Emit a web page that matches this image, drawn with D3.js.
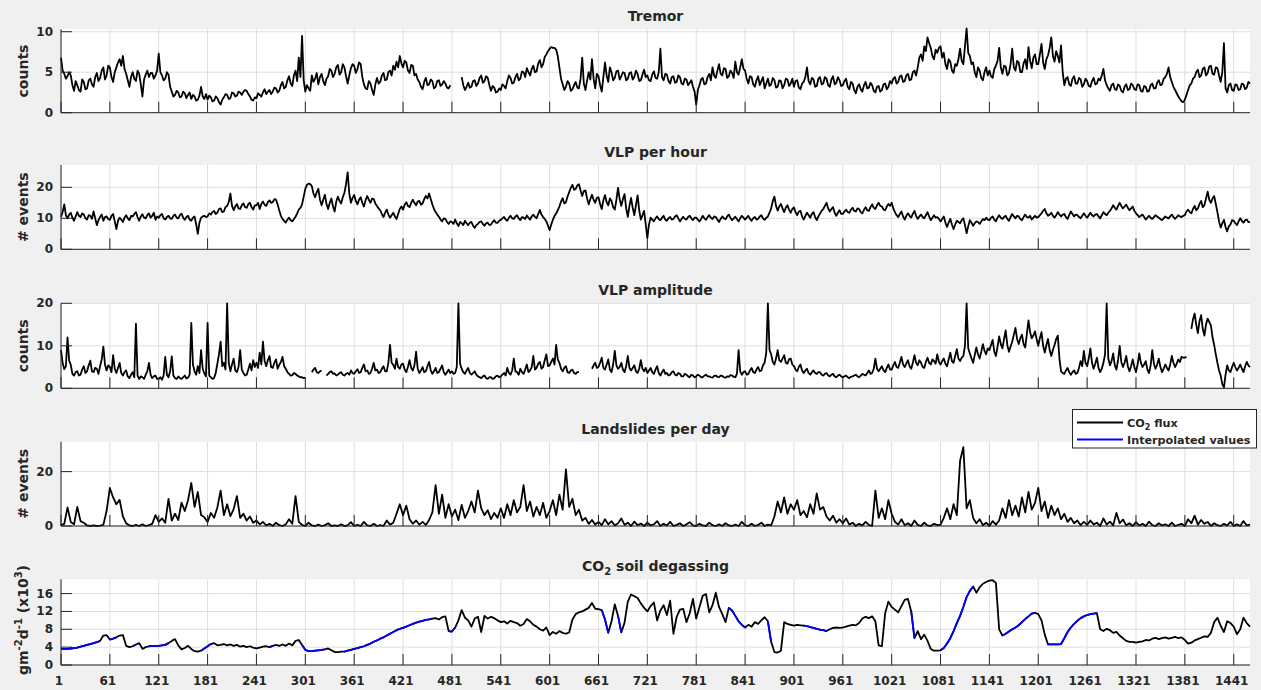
<!DOCTYPE html>
<html>
<head>
<meta charset="utf-8">
<script src="https://cdn.jsdelivr.net/npm/d3@7"></script>
<style>
  html, body { margin: 0; padding: 0; background: #f0f0f0; }
  svg { display: block; }
  text { font-family: "DejaVu Sans", sans-serif; fill: #262626; }
</style>
</head>
<body>
<svg id="chart" width="1261" height="690"></svg>
<script>
// Monitoring record, day 1 .. day 1461.
// Each row holds the samples of one 60-day interval (the last row covers days 1441-1461).
const firstDay = 1;
const lastDay = 1461;
const rowSpan = 60;

// Volcanic tremor (counts), every 2 days
const tremor = [
  [6.8, 5.2, 4.8, 4.2, 4.5, 5.0, 4.6, 3.4, 2.7, 3.9, 3.4, 2.8, 2.6, 4.1, 3.8, 2.9, 3.0, 4.0, 4.2, 3.5, 3.2, 4.4, 4.9, 3.9, 4.3, 5.2, 5.6, 4.1, 4.6, 5.8],
  [5.6, 4.4, 3.8, 5.0, 5.6, 6.2, 6.6, 5.8, 7.0, 5.4, 4.8, 4.0, 3.2, 4.4, 5.0, 4.2, 3.9, 5.2, 4.8, 3.5, 2.0, 4.1, 4.7, 5.2, 4.4, 4.9, 4.9, 4.2, 4.6, 5.2],
  [7.3, 5.0, 4.6, 4.0, 4.2, 5.0, 4.7, 3.2, 2.6, 2.0, 2.2, 2.7, 2.5, 1.9, 2.0, 2.6, 2.4, 1.8, 2.2, 2.5, 1.7, 2.2, 2.0, 1.5, 1.6, 2.1, 3.2, 2.0, 1.7, 2.3],
  [1.6, 2.1, 1.9, 1.4, 1.5, 2.0, 1.8, 1.3, 1.0, 1.6, 1.9, 2.3, 2.2, 1.7, 1.8, 2.5, 2.4, 2.0, 2.1, 2.6, 2.5, 2.2, 2.6, 2.8, 2.7, 2.3, 2.0, 1.6, 1.5, 1.9],
  [1.8, 2.4, 2.2, 2.0, 2.5, 2.9, 2.3, 2.6, 2.8, 2.3, 2.6, 3.1, 3.0, 2.5, 2.7, 3.4, 3.8, 3.0, 3.2, 4.0, 4.5, 3.6, 3.3, 4.6, 5.2, 3.9, 6.8, 4.4, 9.5, 4.0],
  [2.6, 3.4, 3.0, 2.7, 4.6, 3.8, 4.2, 4.9, 3.5, 4.4, 4.8, 3.9, 3.4, 4.2, 4.5, 5.4, 5.2, 4.4, 4.8, 5.6, 5.9, 4.7, 5.0, 6.0, 5.6, 4.5, 3.6, 4.6, 5.5, 6.0],
  [5.8, 4.9, 5.4, 6.2, 6.0, 4.4, 3.5, 3.0, 2.9, 3.9, 3.6, 2.8, 2.2, 3.5, 4.3, 3.6, 3.8, 4.6, 4.9, 4.0, 4.1, 5.0, 5.2, 4.6, 5.8, 5.3, 6.3, 5.6, 7.0, 6.1],
  [5.6, 6.4, 6.2, 5.2, 4.9, 5.9, 5.8, 4.6, 4.8, 4.1, 3.8, 3.2, 2.9, 3.8, 4.3, 3.4, 3.5, 4.1, 3.9, 3.0, 3.2, 3.9, 4.0, 3.3, 3.5, 3.9, 3.6, 3.1, 3.0, 3.4],
  [null, null, null, null, null, null, 4.4, 3.4, 2.8, 3.2, 3.7, 3.1, 3.2, 3.9, 4.0, 3.3, 3.6, 4.3, 4.6, 3.7, 3.9, 4.5, 4.3, 3.4, 2.7, 3.3, 3.1, 2.5, 2.6, 3.0],
  [2.8, 3.5, 3.3, 3.0, 3.9, 4.6, 4.3, 3.6, 3.7, 4.4, 4.8, 4.0, 4.2, 5.1, 5.0, 4.4, 5.5, 5.0, 4.6, 5.4, 5.8, 5.0, 5.1, 6.1, 6.5, 5.6, 6.0, 6.9, 7.2, 7.6],
  [7.9, 8.1, 8.0, 8.0, 7.8, 7.0, 5.6, 4.2, 3.5, 2.8, 3.2, 3.9, 3.6, 2.7, 2.9, 3.4, 3.8, 3.1, 3.0, 4.2, 6.8, 3.6, 2.8, 4.0, 5.0, 4.1, 6.6, 4.2, 3.0, 4.8],
  [4.5, 3.4, 2.6, 4.4, 6.2, 4.6, 3.8, 5.6, 5.0, 4.0, 4.3, 5.1, 5.2, 4.1, 4.5, 5.0, 4.9, 4.0, 4.2, 4.9, 5.0, 4.1, 4.4, 5.2, 4.8, 3.9, 4.0, 4.7, 5.3, 4.4],
  [4.6, 4.0, 3.9, 4.7, 5.1, 4.3, 4.2, 5.0, 7.9, 4.4, 4.0, 4.8, 4.7, 3.9, 3.6, 4.4, 4.5, 3.7, 3.8, 4.6, 4.4, 3.6, 3.5, 4.2, 4.1, 3.4, 3.7, 4.0, 3.2, 2.6],
  [1.0, 2.8, 3.4, 4.1, 4.3, 3.5, 3.6, 4.4, 4.8, 4.0, 5.6, 4.6, 4.3, 5.2, 6.0, 4.8, 4.6, 5.5, 5.4, 4.3, 4.5, 5.2, 4.9, 4.3, 6.3, 5.0, 4.7, 5.6, 6.6, 5.4],
  [5.2, 4.2, 3.6, 4.5, 4.4, 3.5, 3.2, 4.0, 4.5, 3.4, 3.9, 4.4, 3.0, 3.6, 4.2, 3.3, 3.5, 4.3, 4.0, 3.1, 3.2, 4.0, 3.9, 3.0, 3.4, 4.2, 4.1, 3.3, 3.6, 4.2],
  [3.2, 3.9, 4.0, 3.1, 2.9, 3.6, 3.8, 4.4, 5.6, 3.9, 3.5, 4.3, 4.1, 3.2, 3.3, 4.2, 4.4, 3.5, 3.6, 4.4, 4.2, 3.4, 3.2, 4.1, 4.5, 3.5, 3.7, 4.4, 4.0, 3.3],
  [3.4, 3.9, 4.2, 3.2, 2.9, 3.8, 3.6, 2.8, 2.4, 3.2, 3.5, 2.9, 2.6, 3.4, 3.8, 3.0, 3.1, 3.7, 3.4, 2.7, 2.5, 3.2, 3.3, 2.6, 2.8, 3.5, 3.6, 2.9, 3.2, 3.9],
  [3.6, 4.2, 4.4, 3.6, 3.8, 4.5, 4.6, 3.8, 3.9, 4.6, 4.8, 4.0, 4.1, 5.0, 5.2, 4.6, 5.6, 6.8, 7.2, 6.4, 8.2, 7.6, 9.3, 8.6, 8.0, 7.0, 6.6, 7.8, 7.4, 8.0],
  [8.2, 6.8, 7.4, 6.0, 5.4, 6.6, 6.3, 5.2, 4.9, 6.0, 5.8, 6.6, 7.9, 6.4, 6.0, 8.2, 10.4, 7.4, 7.0, 6.0, 6.2, 5.0, 4.4, 5.6, 5.2, 4.3, 4.0, 5.0, 5.6, 4.6],
  [5.2, 4.5, 4.3, 5.4, 5.8, 6.4, 8.0, 5.6, 4.8, 5.8, 5.7, 4.6, 4.9, 6.0, 7.9, 5.6, 5.2, 6.4, 6.2, 5.0, 5.0, 6.1, 6.6, 5.4, 8.1, 6.4, 5.5, 6.8, 7.2, 6.0],
  [6.0, 7.2, 8.5, 6.2, 5.4, 6.6, 7.1, 8.0, 9.3, 7.0, 6.3, 7.6, 7.0, 6.2, 8.3, 5.0, 3.4, 4.2, 4.4, 3.5, 3.3, 4.2, 4.5, 3.6, 3.6, 4.3, 4.1, 3.2, 3.5, 4.2],
  [3.9, 3.3, 3.2, 3.9, 4.3, 3.5, 3.6, 4.2, 4.0, 4.6, 5.4, 4.0, 3.4, 3.0, 2.7, 3.4, 3.6, 2.9, 2.8, 3.5, 3.3, 2.7, 2.5, 3.2, 3.5, 2.8, 2.9, 3.6, 3.4, 2.9],
  [2.8, 3.5, 3.4, 2.7, 2.6, 3.3, 3.2, 2.6, 2.7, 3.4, 3.6, 3.0, 3.0, 3.7, 4.0, 3.4, 3.5, 4.2, 4.4, 4.8, 5.6, 4.4, 3.8, 3.2, 2.8, 2.4, 2.0, 1.7, 1.4, 1.3],
  [1.6, 2.2, 2.8, 3.4, 3.6, 4.2, 4.4, 5.0, 5.3, 4.4, 4.6, 5.4, 5.6, 4.6, 4.9, 5.7, 5.8, 4.8, 4.7, 5.6, 5.5, 4.6, 3.8, 5.0, 8.6, 3.0, 2.5, 3.4, 3.6, 2.8],
  [2.7, 3.5, 3.4, 2.8, 2.9, 3.6, 3.5, 2.9, 3.1, 3.8, 3.6]
];

// Very-long-period events per hour, every 2 days
const vlpRate = [
  [10.5, 12.0, 14.5, 11.0, 10.0, 11.2, 11.8, 10.2, 9.2, 10.6, 12.0, 10.8, 10.4, 11.6, 11.2, 10.0, 9.6, 11.0, 10.8, 9.8, 12.2, 10.0, 7.8, 9.4, 10.4, 11.2, 9.2, 10.4, 10.6, 9.8],
  [9.5, 10.8, 11.4, 9.0, 6.5, 9.2, 10.2, 9.6, 8.8, 10.2, 11.0, 10.0, 9.4, 10.8, 10.6, 11.4, 12.0, 10.4, 9.2, 10.6, 11.3, 10.2, 10.0, 11.0, 11.6, 10.2, 10.8, 11.8, 9.5, 10.6],
  [10.2, 11.0, 11.4, 10.0, 9.6, 10.4, 10.8, 10.0, 9.8, 10.8, 11.2, 10.2, 10.0, 11.0, 11.5, 10.2, 9.5, 10.4, 10.8, 9.6, 9.2, 10.2, 10.6, 8.0, 5.0, 8.6, 10.2, 10.6, 10.8, 10.4],
  [10.6, 11.6, 11.2, 12.0, 12.4, 11.4, 11.8, 13.0, 13.2, 12.0, 12.2, 13.6, 14.0, 15.2, 18.0, 14.0, 12.6, 13.8, 14.6, 13.2, 13.0, 14.2, 14.8, 13.6, 13.4, 14.6, 15.0, 13.6, 12.8, 14.2],
  [14.2, 15.0, 13.0, 14.6, 15.4, 14.4, 14.0, 15.2, 15.8, 15.0, 15.2, 16.2, 16.0, 14.5, 12.5, 10.8, 9.8, 9.2, 8.6, 9.6, 10.2, 9.4, 9.0, 9.8, 10.5, 11.6, 12.8, 13.4, 14.5, 17.0],
  [19.5, 20.8, 21.2, 21.0, 20.4, 18.0, 16.8, 18.4, 19.5, 16.0, 14.2, 16.0, 17.6, 14.6, 13.0, 15.0, 16.4, 13.8, 12.2, 15.4, 17.0, 15.6, 14.8, 16.8, 18.2, 21.0, 24.8, 18.0, 15.0, 16.6],
  [17.5, 15.6, 14.5, 16.0, 16.8, 15.0, 13.8, 15.8, 17.2, 16.0, 15.0, 16.4, 16.2, 14.8, 14.0, 13.2, 12.6, 11.4, 10.4, 11.8, 12.8, 11.2, 10.2, 11.0, 11.8, 10.6, 9.8, 11.4, 13.0, 13.8],
  [12.8, 14.4, 15.2, 14.0, 13.6, 15.0, 16.0, 15.0, 14.2, 15.4, 15.6, 14.4, 14.8, 16.2, 17.2, 16.4, 18.0, 16.2, 14.5, 13.0, 12.0, 11.2, 10.5, 9.6, 9.0, 10.0, 9.8, 8.8, 8.2, 9.0],
  [8.8, 8.2, 9.6, 8.4, 7.5, 8.8, 8.4, 7.8, 9.2, 8.4, 7.8, 8.6, 8.8, 7.6, 6.9, 7.8, 8.2, 8.8, 9.0, 8.2, 7.6, 8.4, 8.6, 7.8, 8.0, 8.8, 9.4, 8.6, 8.5, 9.2],
  [9.5, 10.0, 10.4, 9.6, 9.2, 10.2, 10.8, 10.0, 9.8, 10.6, 11.0, 10.0, 9.4, 10.4, 10.2, 9.8, 10.9, 10.2, 9.6, 10.6, 11.2, 10.4, 10.0, 11.4, 12.7, 11.2, 10.4, 9.8, 9.0, 7.6],
  [6.2, 8.0, 9.5, 10.8, 11.5, 12.6, 13.8, 15.4, 16.5, 14.8, 15.2, 17.0, 18.4, 19.8, 20.8, 19.2, 19.5, 20.6, 21.0, 19.0, 17.2, 18.8, 19.0, 16.4, 14.5, 16.2, 17.6, 16.0, 15.0, 16.6],
  [16.8, 14.6, 13.0, 15.8, 17.5, 15.2, 14.2, 16.4, 15.6, 13.6, 12.8, 16.0, 19.8, 16.2, 14.0, 16.2, 17.8, 13.2, 10.5, 14.0, 16.6, 13.4, 11.0, 14.2, 17.4, 12.6, 9.6, 11.0, 12.4, 8.0],
  [3.6, 8.0, 10.2, 9.6, 9.0, 10.0, 10.6, 9.8, 9.4, 10.2, 10.8, 9.6, 9.2, 10.0, 10.4, 9.6, 9.8, 10.6, 11.0, 10.0, 9.0, 9.8, 10.5, 9.8, 9.6, 10.4, 10.8, 10.0, 9.4, 10.2],
  [10.2, 9.6, 9.0, 9.8, 10.8, 10.0, 9.5, 10.4, 11.0, 10.2, 9.8, 10.6, 10.4, 9.6, 8.8, 9.8, 10.6, 10.0, 9.7, 10.6, 11.2, 10.2, 9.4, 10.0, 10.5, 9.8, 9.0, 10.0, 10.8, 10.2],
  [9.6, 10.2, 10.8, 9.8, 9.2, 10.0, 10.4, 9.6, 9.8, 10.6, 11.0, 10.0, 9.5, 10.2, 10.6, 11.8, 13.2, 15.6, 17.0, 14.0, 12.5, 13.8, 14.6, 13.2, 12.0, 13.4, 14.2, 12.8, 11.8, 13.0],
  [13.5, 12.0, 11.0, 12.2, 12.4, 10.6, 9.6, 10.8, 11.8, 11.0, 10.2, 11.4, 12.0, 10.4, 9.4, 10.6, 11.5, 12.4, 13.0, 14.0, 15.0, 13.2, 12.2, 13.0, 13.6, 11.8, 10.8, 11.8, 12.6, 11.4],
  [11.4, 12.2, 12.8, 12.0, 11.8, 12.8, 13.4, 12.4, 12.2, 13.2, 13.0, 12.0, 11.6, 12.8, 13.6, 12.6, 12.4, 13.6, 14.5, 13.4, 13.0, 14.2, 15.0, 14.0, 13.8, 12.8, 12.6, 13.8, 14.6, 14.0],
  [15.0, 13.2, 12.0, 11.0, 10.4, 11.4, 12.2, 10.6, 9.6, 10.8, 11.6, 10.8, 10.2, 11.4, 12.4, 10.8, 9.8, 10.6, 11.2, 10.4, 10.0, 11.0, 12.0, 10.6, 9.4, 10.2, 11.0, 10.2, 10.4, 9.8],
  [9.0, 9.8, 10.6, 8.6, 7.2, 8.6, 9.8, 8.0, 6.5, 8.0, 9.2, 8.8, 8.4, 9.4, 10.0, 7.8, 5.2, 7.4, 9.4, 8.6, 7.6, 8.4, 9.0, 8.8, 8.2, 9.0, 9.8, 9.4, 10.2, 9.6],
  [9.4, 10.2, 10.6, 9.6, 9.0, 10.2, 11.0, 10.2, 9.8, 10.4, 10.8, 9.8, 9.2, 10.4, 11.4, 10.6, 10.0, 10.8, 10.6, 9.8, 9.4, 10.4, 11.2, 10.4, 10.2, 10.8, 9.6, 10.2, 10.8, 10.2],
  [10.4, 11.0, 11.6, 12.4, 13.0, 11.6, 10.8, 11.2, 11.8, 10.8, 10.2, 11.0, 12.0, 11.2, 10.6, 11.2, 11.4, 10.4, 9.8, 11.0, 12.2, 11.4, 10.6, 11.2, 11.0, 10.4, 10.0, 10.8, 11.6, 10.8],
  [10.2, 11.0, 11.8, 11.0, 10.6, 11.2, 11.4, 10.6, 10.0, 11.0, 12.0, 11.4, 11.0, 11.8, 12.4, 13.2, 14.2, 13.4, 12.8, 14.0, 15.0, 14.0, 13.2, 13.8, 14.4, 13.4, 12.6, 13.2, 13.8, 12.4],
  [11.6, 11.0, 10.4, 10.8, 11.2, 10.4, 9.6, 10.2, 10.8, 10.2, 9.8, 10.4, 11.0, 10.6, 10.2, 9.8, 9.4, 10.0, 10.6, 10.2, 10.0, 10.6, 11.2, 10.4, 9.8, 10.4, 11.0, 10.6, 10.4, 10.8],
  [11.0, 12.2, 12.8, 12.0, 11.6, 13.0, 14.0, 12.6, 13.2, 14.6, 15.6, 13.6, 14.2, 16.4, 18.6, 16.0, 15.0, 16.4, 17.2, 14.6, 12.0, 9.0, 7.0, 8.4, 9.5, 7.2, 5.8, 7.4, 8.0, 9.4],
  [9.2, 8.4, 7.8, 9.0, 10.0, 9.2, 8.6, 9.4, 9.6, 8.8, 8.8]
];

// Very-long-period event amplitude (counts), every 2 days; null = no data
const vlpAmp = [
  [9.0, 6.0, 4.5, 5.2, 12.0, 6.5, 5.5, 3.4, 3.0, 3.8, 4.0, 3.0, 3.2, 4.4, 5.2, 3.6, 4.0, 5.4, 6.5, 4.0, 3.8, 4.8, 4.6, 3.4, 5.2, 6.8, 9.8, 5.6, 4.2, 5.4],
  [5.0, 3.8, 7.8, 4.6, 3.6, 4.8, 6.0, 3.6, 3.0, 3.8, 4.2, 2.8, 2.4, 3.2, 3.8, 2.6, 15.2, 3.0, 2.2, 2.8, 2.6, 2.2, 3.2, 4.0, 6.0, 3.2, 2.4, 2.8, 3.0, 2.2],
  [2.2, 2.6, 2.0, 3.0, 7.4, 3.2, 2.6, 4.0, 7.5, 3.0, 2.4, 2.2, 2.8, 2.4, 2.2, 2.6, 3.0, 2.3, 2.5, 3.2, 15.4, 5.6, 4.0, 3.2, 5.2, 3.6, 9.0, 4.6, 3.5, 2.8],
  [15.4, 3.0, 2.6, 2.2, 2.4, 3.6, 5.8, 8.0, 11.0, 5.2, 6.0, 4.4, 20.0, 6.0, 4.0, 5.6, 7.0, 4.2, 3.8, 5.0, 9.0, 4.4, 3.6, 3.0, 3.2, 4.4, 5.8, 4.2, 6.6, 5.0],
  [6.0, 4.8, 8.4, 5.6, 11.0, 6.4, 5.2, 6.6, 7.6, 5.0, 4.8, 6.0, 6.8, 4.6, 5.5, 6.2, 7.4, 5.2, 4.6, 3.8, 3.4, 3.0, 3.1, 3.6, 3.4, 3.0, 2.8, 2.6, 2.6, 2.4],
  [2.5, null, null, null, 3.8, 4.4, 4.8, 3.8, 3.6, 4.0, 4.2, null, null, 3.0, 3.4, 3.8, 4.0, 3.4, 3.5, 3.0, 3.2, 3.6, 3.8, 3.2, 3.0, 3.4, 3.6, 3.2, 4.2, 3.6],
  [3.4, 4.0, 4.5, 3.6, 3.8, 4.8, 5.6, 4.0, 4.2, 3.4, 3.6, 4.6, 6.0, 4.2, 4.4, 3.6, 3.8, 4.6, 5.2, 4.0, 4.0, 6.0, 10.2, 6.0, 5.5, 4.6, 7.0, 5.0, 4.6, 5.6],
  [5.8, 4.4, 3.8, 5.0, 6.6, 4.8, 4.2, 5.4, 8.6, 4.6, 3.6, 4.2, 5.0, 3.8, 4.0, 5.2, 6.2, 4.2, 3.4, 4.0, 4.8, 3.6, 3.8, 4.6, 5.4, 3.8, 3.2, 3.8, 4.4, 3.6],
  [4.0, 3.4, 3.6, 5.0, 20.0, 5.8, 4.6, 3.8, 3.4, 4.2, 4.8, 3.6, 3.2, 3.6, 4.0, 3.2, 2.8, 2.6, 2.4, 2.8, 3.0, 2.4, 2.2, 2.6, 2.6, 2.2, 2.4, 2.8, 3.0, 2.6],
  [2.8, 3.2, 3.6, 3.0, 4.8, 3.6, 3.2, 4.2, 7.0, 4.0, 3.8, 3.2, 4.6, 3.8, 3.4, 4.4, 5.6, 3.8, 4.2, 5.0, 7.6, 4.4, 4.8, 5.8, 6.2, 4.6, 5.0, 6.6, 8.0, 5.2],
  [5.4, 6.2, 7.0, 5.6, 10.2, 6.8, 6.0, 4.6, 4.0, 4.8, 5.2, 3.8, 3.6, 4.2, 4.4, 3.6, 3.4, 3.8, 3.8, null, null, null, null, null, null, null, 4.6, 5.4, 6.0, 4.8],
  [5.0, 6.0, 7.2, 4.8, 4.4, 5.6, 6.8, 4.4, 3.8, 5.6, 8.8, 5.4, 4.6, 5.0, 6.0, 4.4, 3.8, 5.2, 7.6, 4.8, 4.2, 4.8, 5.4, 4.0, 3.6, 4.6, 6.6, 4.6, 4.0, 4.8],
  [3.6, 4.2, 4.8, 3.8, 3.4, 4.4, 5.2, 3.6, 3.0, 3.8, 4.4, 3.4, 3.6, 3.0, 3.2, 3.8, 4.0, 3.2, 3.0, 3.6, 3.4, 2.8, 2.8, 3.4, 3.2, 2.8, 2.6, 3.2, 3.0, 2.6],
  [2.8, 3.2, 3.0, 2.6, 2.6, 3.0, 3.2, 2.8, 2.8, 2.6, 2.5, 2.9, 3.0, 2.7, 2.6, 3.0, 2.9, 2.6, 2.5, 2.8, 2.7, 3.1, 3.0, 2.7, 2.6, 3.4, 9.0, 4.0, 3.2, 3.8],
  [4.0, 3.2, 3.4, 4.2, 4.8, 3.8, 3.6, 4.4, 5.0, 4.0, 4.2, 5.4, 6.0, 8.4, 20.0, 9.0, 8.0, 6.2, 5.6, 7.0, 9.0, 6.6, 6.2, 7.0, 7.8, 6.0, 5.8, 6.8, 7.0, 5.6],
  [5.2, 4.4, 4.0, 5.0, 5.6, 4.2, 3.6, 4.2, 4.6, 3.6, 3.2, 3.8, 4.2, 3.6, 3.4, 3.8, 3.8, 3.2, 3.0, 3.4, 3.6, 3.0, 2.8, 3.2, 3.4, 2.8, 2.6, 3.0, 3.2, 2.8],
  [2.6, 2.8, 3.0, 2.6, 2.4, 2.7, 2.8, 3.0, 3.2, 2.8, 2.6, 3.0, 3.4, 3.2, 3.0, 3.6, 4.2, 3.4, 3.6, 4.6, 7.0, 4.6, 4.0, 4.6, 5.2, 4.2, 3.8, 4.8, 5.6, 4.4],
  [4.4, 5.4, 6.2, 5.0, 4.8, 6.0, 7.4, 5.6, 5.0, 5.8, 6.6, 5.2, 4.6, 6.0, 7.8, 6.0, 5.4, 6.6, 6.0, 5.0, 4.8, 6.2, 7.2, 6.0, 5.6, 6.8, 6.4, 5.8, 8.0, 6.2],
  [5.6, 6.4, 7.0, 5.8, 5.2, 6.8, 8.4, 6.4, 6.0, 7.6, 9.2, 7.0, 6.4, 7.2, 7.6, 10.0, 20.0, 9.4, 8.2, 7.0, 6.0, 7.8, 9.6, 8.0, 7.0, 8.6, 10.4, 8.8, 8.0, 9.4],
  [9.0, 10.2, 11.4, 8.6, 7.6, 9.8, 12.2, 10.4, 9.4, 11.6, 13.6, 10.2, 8.6, 9.8, 11.0, 12.6, 14.2, 11.6, 10.4, 11.8, 12.6, 10.4, 9.6, 12.8, 16.0, 13.2, 11.8, 12.4, 13.4, 11.6],
  [10.0, 11.8, 13.2, 10.0, 8.4, 10.2, 11.6, 9.0, 7.6, 9.0, 10.2, 11.6, 12.4, 7.0, 4.0, 3.6, 3.4, 4.2, 4.8, 3.8, 3.2, 3.8, 4.2, 3.4, 3.6, 4.8, 6.4, 5.2, 8.8, 6.0],
  [5.2, 7.0, 9.4, 6.0, 4.6, 5.8, 7.2, 4.8, 3.8, 4.6, 6.0, 8.0, 20.0, 7.0, 5.4, 6.4, 8.2, 5.4, 4.4, 6.6, 10.0, 6.2, 5.0, 6.0, 7.6, 5.2, 4.0, 5.2, 6.8, 5.0],
  [3.8, 5.6, 8.2, 6.0, 5.0, 5.6, 6.4, 4.4, 3.6, 5.4, 9.0, 5.8, 4.6, 5.6, 7.0, 5.0, 3.8, 4.6, 5.6, 4.8, 4.2, 5.6, 7.6, 6.0, 5.0, 5.8, 6.8, 6.2, 7.4, 7.2],
  [7.2, 7.4, null, null, 14.0, 16.2, 17.6, 15.0, 13.0, 15.8, 17.2, 14.0, 12.4, 15.0, 16.4, 15.6, 14.8, 12.0, 10.2, 8.0, 6.0, 4.2, 3.0, 1.0, 0.2, 3.2, 5.4, 4.2, 3.8, 5.0],
  [6.0, 5.0, 4.2, 4.8, 5.6, 4.6, 3.8, 5.2, 6.2, 5.4, 5.0]
];

// Landslides per day (events), every 4 days
const landslides = [
  [0.3, 0.8, 6.8, 1.5, 0.6, 7.0, 1.8, 1.2, 0.2, 0.0, 0.2, 0.0, 0.1, 0.4, 5.5],
  [14.0, 10.5, 8.0, 9.6, 3.5, 1.0, 0.2, 0.0, 0.4, 0.0, 0.6, 0.0, 0.3, 0.8, 4.0],
  [1.5, 2.8, 1.2, 10.0, 2.0, 4.5, 2.2, 8.6, 5.5, 9.5, 15.8, 7.0, 12.5, 4.0, 3.2],
  [1.5, 4.8, 3.0, 6.8, 13.0, 4.0, 8.0, 3.6, 6.2, 11.0, 3.0, 4.5, 2.0, 3.5, 1.2],
  [2.0, 0.6, 1.5, 0.2, 0.8, 0.0, 1.2, 0.3, 0.0, 0.6, 2.5, 0.8, 11.0, 1.5, 0.4],
  [0.0, 1.2, 0.2, 0.0, 0.5, 0.0, 0.3, 1.0, 0.0, 0.2, 0.0, 0.6, 0.0, 0.2, 1.4],
  [0.0, 0.4, 0.0, 1.5, 0.2, 0.0, 0.8, 0.0, 0.3, 0.0, 2.0, 0.5, 1.2, 4.5, 8.0],
  [4.0, 7.5, 2.5, 0.8, 2.0, 0.5, 1.5, 0.4, 2.2, 5.0, 15.0, 4.5, 11.5, 3.0, 8.0],
  [3.5, 6.0, 2.2, 7.8, 3.0, 5.5, 9.0, 5.0, 13.0, 6.5, 4.0, 5.8, 2.5, 4.8, 3.0],
  [6.5, 3.0, 8.0, 4.0, 9.5, 5.0, 7.0, 15.0, 5.5, 9.0, 3.5, 7.0, 4.0, 8.5, 3.0],
  [5.5, 9.5, 4.0, 11.5, 6.0, 20.8, 7.0, 10.0, 4.0, 6.0, 2.0, 3.0, 0.8, 2.2, 0.5],
  [1.5, 0.3, 2.5, 0.6, 1.8, 0.2, 1.0, 2.8, 0.4, 1.2, 0.0, 1.6, 0.3, 0.9, 0.0],
  [1.2, 0.2, 0.6, 1.8, 0.0, 0.8, 0.2, 1.5, 0.0, 0.4, 1.0, 0.0, 0.6, 1.4, 0.2],
  [0.0, 0.8, 0.2, 0.0, 1.2, 0.3, 0.0, 0.6, 0.0, 1.0, 0.2, 0.0, 0.5, 0.0, 1.5],
  [0.2, 0.0, 0.8, 0.0, 0.4, 1.2, 0.0, 0.5, 0.2, 3.5, 9.0, 5.0, 10.5, 4.5, 8.0],
  [6.0, 9.5, 4.0, 5.5, 3.2, 8.0, 4.5, 12.0, 6.0, 7.0, 3.5, 2.0, 3.8, 1.2, 2.5],
  [1.0, 2.8, 0.5, 1.2, 0.0, 0.8, 0.2, 1.5, 0.4, 0.0, 13.0, 3.0, 6.5, 2.5, 9.5],
  [4.5, 1.5, 0.5, 2.5, 0.3, 1.0, 0.0, 2.0, 0.4, 0.0, 1.2, 0.2, 0.0, 0.8, 0.3],
  [0.5, 3.0, 6.5, 2.5, 8.0, 4.0, 24.0, 29.0, 6.5, 9.5, 3.0, 1.0, 2.5, 0.3, 1.2],
  [0.0, 1.8, 0.5, 2.0, 6.5, 3.0, 9.5, 4.0, 7.5, 3.5, 10.5, 5.0, 12.5, 6.0, 8.5],
  [14.0, 5.5, 9.0, 3.0, 7.5, 4.0, 6.5, 2.5, 4.5, 1.5, 3.0, 1.0, 2.0, 0.3, 1.5],
  [0.4, 2.0, 0.6, 1.2, 0.0, 2.8, 0.5, 1.6, 0.2, 4.8, 1.0, 2.4, 0.3, 1.0, 0.0],
  [1.4, 0.2, 0.8, 0.0, 1.6, 0.3, 0.0, 1.0, 0.2, 0.6, 0.0, 1.2, 0.0, 0.4, 0.8],
  [0.0, 2.5, 1.0, 3.8, 0.5, 2.2, 0.8, 1.5, 0.0, 1.0, 0.3, 0.0, 0.8, 0.2, 1.5],
  [0.0, 0.6, 0.0, 1.8, 0.2, 0.5]
];

// CO2 soil flux (g m^-2 d^-1, x10^3), every 4 days
const co2 = [
  [3.6, 3.6, 3.6, 3.7, 3.8, 3.9, 4.1, 4.3, 4.5, 4.7, 4.9, 5.1, 5.4, 6.6, 6.7],
  [5.7, 5.9, 6.2, 6.6, 6.7, 4.3, 4.0, 4.2, 4.6, 4.9, 3.6, 4.0, 4.2, 4.3, 4.3],
  [4.3, 4.4, 4.5, 4.9, 5.4, 5.8, 4.4, 3.5, 3.8, 4.3, 3.6, 3.1, 3.0, 3.2, 3.7],
  [4.2, 4.7, 4.9, 4.4, 4.5, 4.7, 4.4, 4.6, 4.3, 4.5, 4.1, 4.3, 4.0, 4.2, 3.9],
  [3.7, 3.9, 4.1, 4.2, 4.0, 4.3, 4.5, 4.3, 4.6, 4.3, 4.8, 4.4, 5.4, 5.6, 4.5],
  [3.4, 3.1, 3.1, 3.2, 3.3, 3.4, 3.5, 3.7, 3.3, 2.9, 2.9, 3.0, 3.0, 3.2, 3.4],
  [3.6, 3.8, 4.0, 4.2, 4.5, 4.8, 5.2, 5.5, 5.9, 6.2, 6.6, 7.0, 7.4, 7.8, 8.1],
  [8.3, 8.6, 8.9, 9.2, 9.5, 9.7, 9.9, 10.1, 10.2, 10.4, 10.5, 10.2, 10.7, 10.9, 7.6],
  [7.5, 8.4, 10.0, 12.3, 10.6, 10.0, 8.6, 10.4, 10.8, 7.4, 11.0, 10.4, 10.8, 10.5, 10.0],
  [9.6, 9.8, 9.3, 9.9, 9.6, 9.4, 8.8, 9.2, 10.3, 9.8, 9.0, 8.6, 8.0, 7.7, 8.4],
  [6.7, 7.4, 7.0, 7.6, 7.2, 7.0, 7.3, 10.2, 11.4, 11.8, 12.0, 12.4, 12.8, 13.9, 12.6],
  [12.5, 12.3, 10.2, 7.2, 9.8, 13.6, 11.0, 7.3, 9.5, 14.2, 15.8, 15.4, 15.0, 13.8, 12.8],
  [12.0, 13.2, 14.0, 10.0, 12.2, 13.4, 11.2, 14.4, 7.0, 10.8, 12.4, 12.6, 9.6, 11.6, 14.8],
  [10.4, 13.0, 15.5, 15.9, 11.8, 13.4, 16.2, 13.0, 11.4, 9.6, 12.8, 12.2, 11.0, 9.8, 9.0],
  [8.4, 9.0, 8.6, 9.6, 9.2, 10.0, 10.7, 9.8, 5.2, 2.9, 2.8, 3.2, 9.6, 9.2, 9.0],
  [8.8, 9.0, 8.9, 8.8, 8.7, 8.5, 8.3, 8.1, 7.9, 7.8, 7.6, 8.0, 8.3, 8.4, 8.3],
  [8.4, 8.6, 8.8, 9.0, 8.9, 9.4, 10.4, 10.8, 10.5, 10.9, 9.8, 4.4, 4.2, 11.6, 14.2],
  [13.0, 12.4, 11.8, 13.2, 14.6, 14.8, 12.0, 6.0, 7.6, 5.8, 6.8, 5.4, 3.6, 3.2, 3.2],
  [3.3, 3.8, 4.8, 6.0, 7.6, 9.4, 11.0, 13.0, 15.2, 16.6, 17.6, 16.2, 17.4, 18.2, 18.6],
  [18.9, 19.0, 18.4, 8.0, 6.6, 7.0, 7.5, 8.0, 8.4, 8.9, 9.6, 10.3, 10.9, 11.5, 11.7],
  [11.4, 10.0, 6.8, 4.6, 4.6, 4.6, 4.6, 4.7, 6.0, 7.4, 8.4, 9.2, 9.9, 10.5, 10.9],
  [11.2, 11.4, 11.5, 11.6, 8.0, 7.6, 8.1, 7.8, 7.2, 7.4, 6.6, 6.0, 5.4, 5.2, 5.2],
  [5.0, 5.2, 5.3, 5.6, 5.5, 5.9, 6.1, 5.8, 6.0, 6.2, 5.9, 6.1, 6.3, 6.0, 6.2],
  [5.6, 4.8, 5.0, 5.5, 5.8, 6.1, 6.4, 6.3, 7.2, 9.6, 10.6, 8.8, 7.4, 9.8, 9.4],
  [8.6, 6.9, 8.0, 10.6, 9.4, 8.6]
];

// 1 = gap-filled (interpolated) CO2 sample, 0 = measured
const co2Interpolated = [
  [1,1,1,1,1,1,1,1,1,1,1,1,1,0,0],
  [1,1,1,0,0,0,0,1,1,0,0,0,1,1,1],
  [1,1,1,1,0,0,0,0,0,0,0,0,0,1,1],
  [1,1,0,0,0,0,0,0,0,0,0,0,0,0,0],
  [0,0,0,0,1,1,0,0,0,0,0,1,0,0,1],
  [1,1,1,1,1,1,1,0,0,0,0,0,1,1,1],
  [1,1,1,1,1,1,1,1,1,1,1,1,1,1,1],
  [1,1,1,1,1,1,1,1,1,1,0,0,0,0,1],
  [1,1,0,0,0,0,0,0,0,0,0,0,0,0,0],
  [0,0,0,0,0,0,0,0,0,0,0,0,0,0,0],
  [0,0,0,0,0,0,0,0,0,0,0,0,0,0,0],
  [0,1,1,1,0,0,1,1,0,0,0,0,0,0,0],
  [0,0,0,0,0,0,0,0,0,0,0,0,0,0,0],
  [0,0,0,0,0,0,0,0,0,0,1,1,1,1,1],
  [1,0,0,0,0,0,0,1,1,0,0,0,0,0,0],
  [0,0,0,1,1,1,1,1,1,1,1,0,0,0,0],
  [0,0,0,0,0,0,0,0,0,0,0,0,0,0,0],
  [0,0,0,0,0,0,1,1,0,0,0,0,0,0,0],
  [1,1,1,1,1,1,1,1,1,1,1,0,0,0,0],
  [0,0,0,0,1,1,1,1,1,1,1,1,1,1,1],
  [0,0,0,1,1,1,1,1,1,1,1,1,1,1,1],
  [1,1,1,1,0,0,0,0,0,0,0,0,0,0,0],
  [0,0,0,0,0,0,0,0,0,0,0,0,0,0,0],
  [0,0,0,0,0,0,0,0,0,0,0,0,0,0,0],
  [0,0,0,0,0,0]
];

const xTicks = [1, 61, 121, 181, 241, 301, 361, 421, 481, 541, 601, 661, 721, 781, 841,
                901, 961, 1021, 1081, 1141, 1201, 1261, 1321, 1381, 1441];

// Turn rows of one-interval samples into {day, v} points.
function toPoints(rows, flags) {
  const pts = [];
  const nRows = rows.length;
  rows.forEach((row, r) => {
    const start = firstDay + r * rowSpan;
    const isLast = r === nRows - 1;
    const step = isLast ? (lastDay - start) / Math.max(1, row.length - 1) : rowSpan / row.length;
    row.forEach((v, j) => {
      pts.push({ day: start + j * step, v: v, flag: flags ? flags[r][j] : 0 });
    });
  });
  return pts;
}

const panels = [
  { title: "Tremor", ylabel: "counts", rows: tremor, yMax: 10.3, yTicks: [0, 5, 10], top: 29.3, bottom: 112.7 },
  { title: "VLP per hour", ylabel: "# events", rows: vlpRate, yMax: 27.2, yTicks: [0, 10, 20], top: 165, bottom: 249.3 },
  { title: "VLP amplitude", ylabel: "counts", rows: vlpAmp, yMax: 20, yTicks: [0, 10, 20], top: 303.3, bottom: 388.3 },
  { title: "Landslides per day", ylabel: "# events", rows: landslides, yMax: 31, yTicks: [0, 20], top: 441.7, bottom: 526 },
  { title: "CO2", ylabel: null, rows: co2, flags: co2Interpolated, yMax: 19.2, yTicks: [0, 4, 8, 12, 16], top: 579.3, bottom: 665 }
];

const svg = d3.select("#chart");
const x = d3.scaleLinear().domain([firstDay, lastDay]).range([61, 1250]);
const ink = "#262626";
const gridColor = "#dedede";
const tickLen = 11;
const lineWidth = 1.8;
const tickFont = 12;
const labelFont = 14;

panels.forEach((p, k) => {
  const y = d3.scaleLinear().domain([0, p.yMax]).range([p.bottom, p.top]);
  const g = svg.append("g");

  // plot area
  g.append("rect")
    .attr("x", x.range()[0]).attr("y", p.top)
    .attr("width", x.range()[1] - x.range()[0]).attr("height", p.bottom - p.top)
    .attr("fill", "#ffffff");

  // grid
  g.selectAll(".vgrid").data(xTicks).enter().append("line")
    .attr("x1", d => x(d)).attr("x2", d => x(d))
    .attr("y1", p.top).attr("y2", p.bottom)
    .attr("stroke", gridColor).attr("stroke-width", 1);
  g.selectAll(".hgrid").data(p.yTicks).enter().append("line")
    .attr("x1", x.range()[0]).attr("x2", x.range()[1])
    .attr("y1", d => y(d)).attr("y2", d => y(d))
    .attr("stroke", gridColor).attr("stroke-width", 1);

  // data
  const pts = toPoints(p.rows, p.flags);
  const line = d3.line()
    .defined(d => d.v != null)
    .x(d => x(d.day)).y(d => y(d.v));
  g.append("path").datum(pts)
    .attr("d", line).attr("fill", "none")
    .attr("stroke", "#000000").attr("stroke-width", lineWidth)
    .attr("stroke-linejoin", "round");

  if (p.flags) {
    const interpLine = d3.line()
      .defined(d => d.flag === 1)
      .x(d => x(d.day)).y(d => y(d.v));
    g.append("path").datum(pts)
      .attr("d", interpLine).attr("fill", "none")
      .attr("stroke", "#0000ff").attr("stroke-width", lineWidth)
      .attr("stroke-linejoin", "round");
  }

  // axes: bottom and left lines with inward ticks
  const axis = g.append("g");
  axis.append("line")
    .attr("x1", x.range()[0]).attr("x2", x.range()[1])
    .attr("y1", p.bottom).attr("y2", p.bottom)
    .attr("stroke", ink).attr("stroke-width", 1);
  axis.append("line")
    .attr("x1", x.range()[0]).attr("x2", x.range()[0])
    .attr("y1", p.top).attr("y2", p.bottom)
    .attr("stroke", ink).attr("stroke-width", 1);
  axis.selectAll(".xt").data(xTicks).enter().append("line")
    .attr("x1", d => x(d)).attr("x2", d => x(d))
    .attr("y1", p.bottom).attr("y2", p.bottom - tickLen)
    .attr("stroke", ink).attr("stroke-width", 1);
  axis.selectAll(".yt").data(p.yTicks).enter().append("line")
    .attr("x1", x.range()[0]).attr("x2", x.range()[0] + tickLen)
    .attr("y1", d => y(d)).attr("y2", d => y(d))
    .attr("stroke", ink).attr("stroke-width", 1);

  axis.selectAll(".yl").data(p.yTicks).enter().append("text")
    .attr("x", 53).attr("y", d => y(d))
    .attr("text-anchor", "end").attr("dominant-baseline", "central")
    .attr("font-size", tickFont).attr("font-weight", "bold")
    .text(d => d);

  if (k === panels.length - 1) {
    axis.selectAll(".xl").data(xTicks).enter().append("text")
      .attr("x", d => x(d) - 2).attr("y", 685)
      .attr("text-anchor", "middle")
      .attr("font-size", tickFont).attr("font-weight", "bold")
      .text(d => d);
  }

  // title
  const title = g.append("text")
    .attr("x", (x.range()[0] + x.range()[1]) / 2).attr("y", p.top - 8)
    .attr("text-anchor", "middle").attr("font-size", labelFont).attr("font-weight", "bold");
  if (p.flags) {
    title.append("tspan").text("CO");
    title.append("tspan").attr("font-size", 10).attr("dy", 4).text("2");
    title.append("tspan").attr("dy", -4).text(" soil degassing");
  } else {
    title.text(p.title);
  }

  // y label
  const mid = (p.top + p.bottom) / 2;
  const yl = g.append("text")
    .attr("transform", `translate(23,${p.flags ? 620 : mid}) rotate(-90)`)
    .attr("text-anchor", "middle").attr("dominant-baseline", "central")
    .attr("font-size", labelFont).attr("font-weight", "bold");
  if (p.flags) {
    yl.append("tspan").text("gm");
    yl.append("tspan").attr("font-size", 10).attr("dy", -5).text("-2");
    yl.append("tspan").attr("dy", 5).text("d");
    yl.append("tspan").attr("font-size", 10).attr("dy", -5).text("-1");
    yl.append("tspan").attr("dy", 5).text(" (x10");
    yl.append("tspan").attr("font-size", 10).attr("dy", -5).text("3");
    yl.append("tspan").attr("dy", 5).text(")");
  } else {
    yl.text(p.ylabel);
  }
});

// legend for the CO2 panel
const legend = svg.append("g");
legend.append("rect")
  .attr("x", 1072.5).attr("y", 409.5).attr("width", 184).attr("height", 38.5)
  .attr("fill", "#ffffff").attr("stroke", ink).attr("stroke-width", 1);
const legendItems = [
  { color: "#000000", y: 422.5, label: "flux" },
  { color: "#0000ff", y: 439.5, label: "Interpolated values" }
];
legendItems.forEach((it, i) => {
  legend.append("line")
    .attr("x1", 1077).attr("x2", 1123).attr("y1", it.y).attr("y2", it.y)
    .attr("stroke", it.color).attr("stroke-width", lineWidth);
  const t = legend.append("text")
    .attr("x", 1127).attr("y", it.y + 4)
    .attr("font-size", 11.2).attr("font-weight", "bold");
  if (i === 0) {
    t.append("tspan").text("CO");
    t.append("tspan").attr("font-size", 8).attr("dy", 3).text("2");
    t.append("tspan").attr("dy", -3).text(" flux");
  } else {
    t.text(it.label);
  }
});
</script>
</body>
</html>
